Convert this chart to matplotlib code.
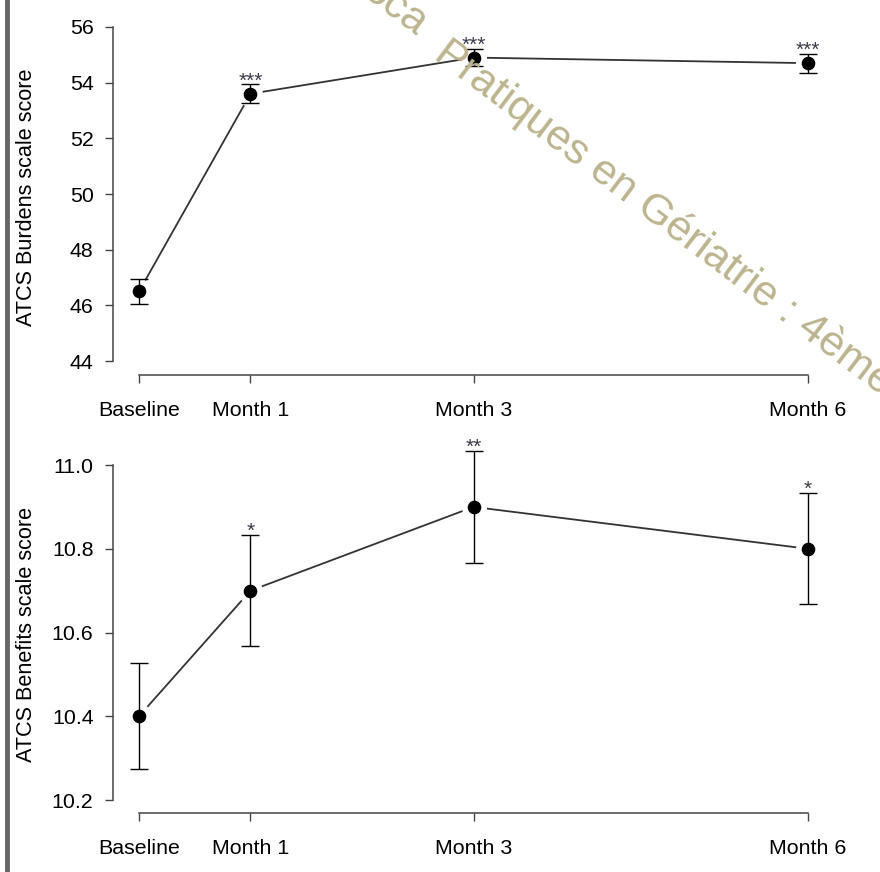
import matplotlib
matplotlib.use("Agg")
import matplotlib.pyplot as plt
from matplotlib.lines import Line2D

plt.rcParams['font.family'] = ['Liberation Sans', 'DejaVu Sans']

# ---- data ----
timepoints = ["Baseline", "Month 1", "Month 3", "Month 6"]
months = [0, 1, 3, 6]

burdens_mean = [46.5, 53.6, 54.9, 54.7]
burdens_err = [0.46, 0.34, 0.32, 0.34]
burdens_sig = ["", "***", "***", "***"]
burdens_ticks = [44, 46, 48, 50, 52, 54, 56]

benefits_mean = [10.40, 10.70, 10.90, 10.80]
benefits_err = [0.127, 0.133, 0.133, 0.133]
benefits_sig = ["", "*", "**", "*"]
benefits_ticks = [10.2, 10.4, 10.6, 10.8, 11.0]
benefits_ticklabels = ["10.2", "10.4", "10.6", "10.8", "11.0"]

W, H = 880, 872
fig = plt.figure(figsize=(W / 100, H / 100), dpi=100)


def px_axes(left, top, right, bottom):
    return fig.add_axes([left / W, (H - bottom) / H, (right - left) / W, (bottom - top) / H])


def draw_panel(ax, means, errs, sigs, yticks, yticklabels, ylim, ylabel):
    ax.plot(months, means, color="#333333", lw=1.3, zorder=1, clip_on=False)
    ax.plot(months, means, "o", ms=17, color="white", zorder=2, clip_on=False)
    eb = ax.errorbar(months, means, yerr=errs, fmt="none", ecolor="black",
                     elinewidth=1.0, capsize=6.5, capthick=1.0, zorder=3)
    for art in eb.lines[1] + eb.lines[2]:
        art.set_clip_on(False)
    ax.plot(months, means, "o", ms=8.8, color="black", zorder=4, clip_on=False)
    for x, m, e, s in zip(months, means, errs, sigs):
        if s:
            ax.annotate(s, (x, m + e), xytext=(0, -1.5), textcoords="offset points",
                        ha="center", va="baseline", fontsize=15, color="#3a3a4a",
                        annotation_clip=False)
    ax.set_xlim(-0.233, 6.197)
    ax.set_ylim(*ylim)
    ax.set_xticks(months)
    ax.set_xticklabels(timepoints)
    ax.set_yticks(yticks)
    ax.set_yticklabels(yticklabels)
    for side in ("top", "right"):
        ax.spines[side].set_visible(False)
    ax.spines["left"].set_bounds(yticks[0], yticks[-1])
    ax.spines["bottom"].set_bounds(months[0], months[-1])
    for side in ("left", "bottom"):
        ax.spines[side].set_color("#444444")
        ax.spines[side].set_linewidth(1.1)
    ax.tick_params(axis="y", direction="out", length=5.5, width=1.0, color="#444444",
                   pad=8.5, labelsize=15.4)
    ax.tick_params(axis="x", direction="out", length=6, width=1.0, color="#444444",
                   pad=13, labelsize=15.4)
    ax.set_ylabel(ylabel, fontsize=15.6)
    ax.yaxis.set_label_coords(-0.106, 0.5)
    ax.patch.set_alpha(0)


ax1 = px_axes(113, 20, 830, 375)
draw_panel(ax1, burdens_mean, burdens_err, burdens_sig, burdens_ticks,
           [str(t) for t in burdens_ticks], (43.5, 56.25), "ATCS Burdens scale score")

ax2 = px_axes(113, 455, 830, 813)
draw_panel(ax2, benefits_mean, benefits_err, benefits_sig, benefits_ticks,
           benefits_ticklabels, (10.169, 11.024), "ATCS Benefits scale score")

# left grey rule
fig.add_artist(Line2D([7 / W, 7 / W], [0, 1], transform=fig.transFigure,
                      color="#666666", lw=3.5))

# watermark
wm_color = "#bcb48e"
fig.text(432 / W, (H - 58) / H, "Pratiques en Gériatrie : 4ème", rotation=-37,
         rotation_mode="anchor", ha="left", va="baseline", fontsize=31, color=wm_color,
         zorder=10)
fig.text(416 / W, (H - 37) / H, "oca", rotation=-37,
         rotation_mode="anchor", ha="right", va="baseline", fontsize=31, color=wm_color,
         zorder=10)

fig.savefig("out.png", dpi=100)
